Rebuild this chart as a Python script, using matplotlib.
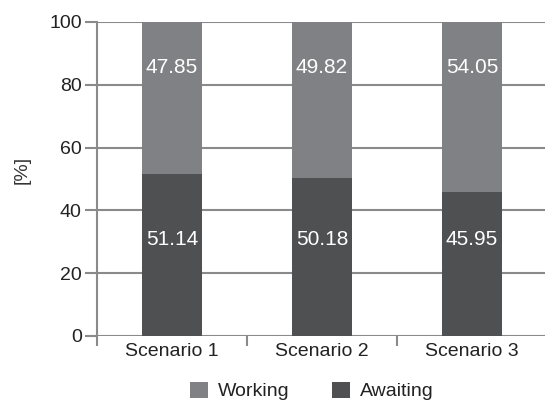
import matplotlib.pyplot as plt
import numpy as np

plt.rcParams['font.family'] = ['Liberation Sans', 'DejaVu Sans']

scenarios = ['Scenario 1', 'Scenario 2', 'Scenario 3']
working = [47.85, 49.82, 54.05]
awaiting = [51.14, 50.18, 45.95]

# 100% stacked like the original
total = np.array(working) + np.array(awaiting)
aw_pct = np.array(awaiting) / total * 100
wk_pct = np.array(working) / total * 100

c_work = '#808184'
c_wait = '#4f5052'
grid_c = '#8a8a8a'
txt_c = '#222222'

fig = plt.figure(figsize=(5.45, 4.03), dpi=100)
ax = fig.add_axes([97/545, 1-336/403, 450/545, 314/403])

x = np.arange(len(scenarios))
ax.bar(x, aw_pct, width=0.4, color=c_wait, label='Awaiting', zorder=3)
ax.bar(x, wk_pct, width=0.4, bottom=aw_pct, color=c_work, label='Working', zorder=3)

# data labels sit at fixed heights in the original
for i in range(len(x)):
    ax.text(x[i], 85.4, '%.2f' % working[i], color='white', ha='center', va='center', fontsize=15, zorder=4)
    ax.text(x[i], 30.6, '%.2f' % awaiting[i], color='white', ha='center', va='center', fontsize=15, zorder=4)

ax.set_xlim(-0.5, 2.5)
ax.set_ylim(0, 100)
ax.set_yticks(range(0, 101, 20))
ax.yaxis.grid(True, color=grid_c, linewidth=1.5, zorder=0)
ax.tick_params(axis='y', length=9, width=1.5, color=grid_c, labelsize=14, pad=2, labelcolor=txt_c)

ax.set_xticks(x)
ax.set_xticklabels(scenarios)
ax.set_xticks([-0.5, 0.5, 1.5, 2.5], minor=True)
ax.tick_params(axis='x', which='major', length=0, labelsize=14, pad=5, labelcolor=txt_c)
ax.tick_params(axis='x', which='minor', length=7, width=1.5, color=grid_c)

for s in ['top', 'right', 'bottom']:
    ax.spines[s].set_visible(False)
ax.spines['left'].set_color(grid_c)
ax.spines['left'].set_linewidth(1.5)
ax.spines['left'].set_zorder(5)

ax.set_ylabel('[%]', fontsize=14, color='#333333')
ax.yaxis.set_label_coords(-0.147, 0.529)

h, l = ax.get_legend_handles_labels()
fig.legend(h[::-1], l[::-1], loc='center', bbox_to_anchor=(312/545, 1-391/403), ncol=2,
           frameon=False, fontsize=14, handlelength=0.93, handleheight=0.93,
           columnspacing=2.2, handletextpad=0.5, borderpad=0, labelcolor=txt_c)

fig.savefig('out.png', dpi=100)
